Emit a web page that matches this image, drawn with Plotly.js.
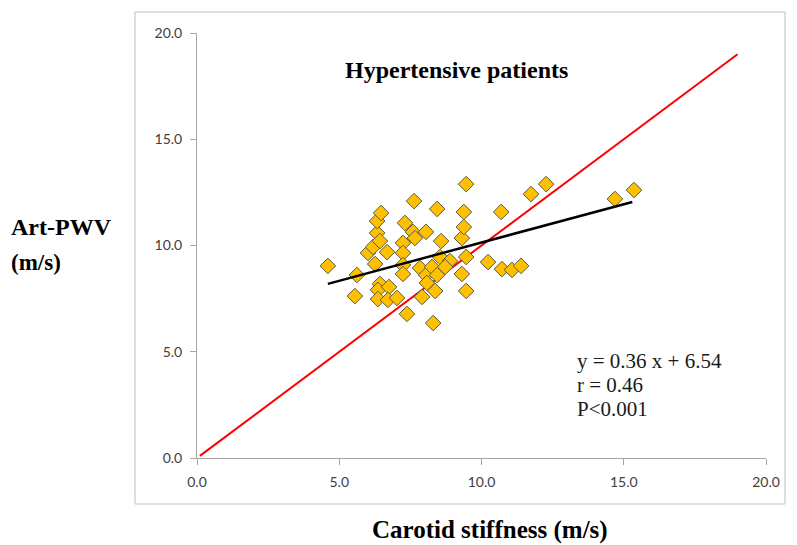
<!DOCTYPE html>
<html>
<head>
<meta charset="utf-8">
<script src="https://cdn.plot.ly/plotly-3.0.1.min.js"></script>
<style>html,body{margin:0;padding:0;background:#fff;}#chart{width:797px;height:545px;}</style>
</head>
<body>
<div id="chart"></div>
<script>
// Carotid stiffness (m/s)
const carotid = [4.60,5.55,5.62,6.01,6.19,6.33,6.33,6.47,6.43,6.26,6.68,6.43,6.36,6.36,6.75,6.71,7.03,7.24,7.24,7.24,7.24,7.31,7.63,7.59,8.05,7.66,7.38,7.84,7.91,8.05,8.08,8.26,8.30,8.37,8.44,8.44,8.54,8.58,8.89,8.72,9.31,9.31,9.38,9.38,9.46,9.46,9.46,10.23,10.69,10.72,11.07,11.39,11.74,12.27,14.69,15.36];
// Art-PWV (m/s)
const artPWV = [9.04,7.62,8.61,9.65,9.93,10.59,11.15,11.53,10.21,9.13,9.69,8.19,7.91,7.48,8.05,7.44,7.53,10.12,9.65,9.08,8.66,11.06,12.09,10.64,10.64,10.35,6.78,8.94,7.58,8.61,8.24,8.99,6.35,7.86,11.72,8.61,9.46,10.21,9.27,8.99,10.35,8.66,11.58,10.87,12.89,9.46,7.86,9.22,11.58,8.89,8.85,9.04,12.42,12.89,12.19,12.61];
// regression y = 0.36 x + 6.54, drawn over the data range
const slope = 0.36, intercept = 6.54;
const fitX = [4.6, 15.3];
const fitY = fitX.map(v => slope * v + intercept);
// identity line
const idX = [0.1, 19];
const idY = [0.1, 19];
const tickVals = [0, 5, 10, 15, 20];
const tickText = ["0.0", "5.0", "10.0", "15.0", "20.0"];
const statLines = ["y = 0.36 x + 6.54", "r = 0.46", "P<0.001"];

const traces = [
  {x: idX, y: idY, mode: 'lines', line: {color: '#ff0000', width: 2}, hoverinfo: 'skip'},
  {x: carotid, y: artPWV, mode: 'markers', marker: {symbol: 'diamond', size: 12, color: '#FFC000', line: {color: '#5a5a4a', width: 1}}},
  {x: fitX, y: fitY, mode: 'lines', line: {color: '#000000', width: 2.5}, hoverinfo: 'skip'}
];

const serif = "'Liberation Serif', 'Times New Roman', serif";
const axisCommon = {
  range: [0, 20], showgrid: false, zeroline: false, showline: true,
  linecolor: '#a6a6a6', linewidth: 1, ticks: 'outside', ticklen: 6, tickcolor: '#a6a6a6',
  tickvals: tickVals, ticktext: tickText,
  tickfont: {family: "Lato, 'Open Sans', sans-serif", size: 14, color: '#404040'},
  ticklabelstandoff: 5, fixedrange: true
};

// pixel helpers for paper coordinates (plot area 197..766 x 33..458)
const px = v => (v - 197) / 569;
const py = v => (458 - v) / 425;

const annotations = [
  {text: '<b>Hypertensive patients</b>', xref: 'paper', yref: 'paper', x: px(456), y: py(55),
   showarrow: false, font: {family: serif, size: 24, color: '#000'}},
  {text: '<b>Art-PWV</b>', xref: 'paper', yref: 'paper', x: px(9), y: py(227),
   xanchor: 'left', yanchor: 'middle', showarrow: false, font: {family: serif, size: 24, color: '#000'}},
  {text: '<b>(m/s)</b>', xref: 'paper', yref: 'paper', x: px(9), y: py(262),
   xanchor: 'left', yanchor: 'middle', showarrow: false, font: {family: serif, size: 23, color: '#000'}},
  {text: '<b>Carotid stiffness (m/s)</b>', xref: 'paper', yref: 'paper', x: px(490), y: py(530),
   xanchor: 'center', yanchor: 'middle', showarrow: false, font: {family: serif, size: 25, color: '#000'}}
];
statLines.forEach((t, i) => {
  annotations.push({text: t, xref: 'paper', yref: 'paper', x: px(575), y: py(361 + 24 * i),
    xanchor: 'left', yanchor: 'middle', align: 'left', showarrow: false,
    font: {family: serif, size: 21, color: '#1a1a1a'}});
});

const layout = {
  width: 797, height: 545,
  margin: {l: 197, r: 31, t: 33, b: 87},
  paper_bgcolor: '#ffffff', plot_bgcolor: '#ffffff',
  showlegend: false,
  xaxis: Object.assign({}, axisCommon),
  yaxis: Object.assign({}, axisCommon),
  shapes: [
    {type: 'rect', xref: 'paper', yref: 'paper',
     x0: px(135), x1: px(785), y0: py(504), y1: py(12),
     line: {color: '#bfbfbf', width: 1}, fillcolor: 'rgba(0,0,0,0)'}
  ],
  annotations: annotations
};

Plotly.newPlot('chart', traces, layout, {displayModeBar: false, staticPlot: true});
</script>
</body>
</html>
